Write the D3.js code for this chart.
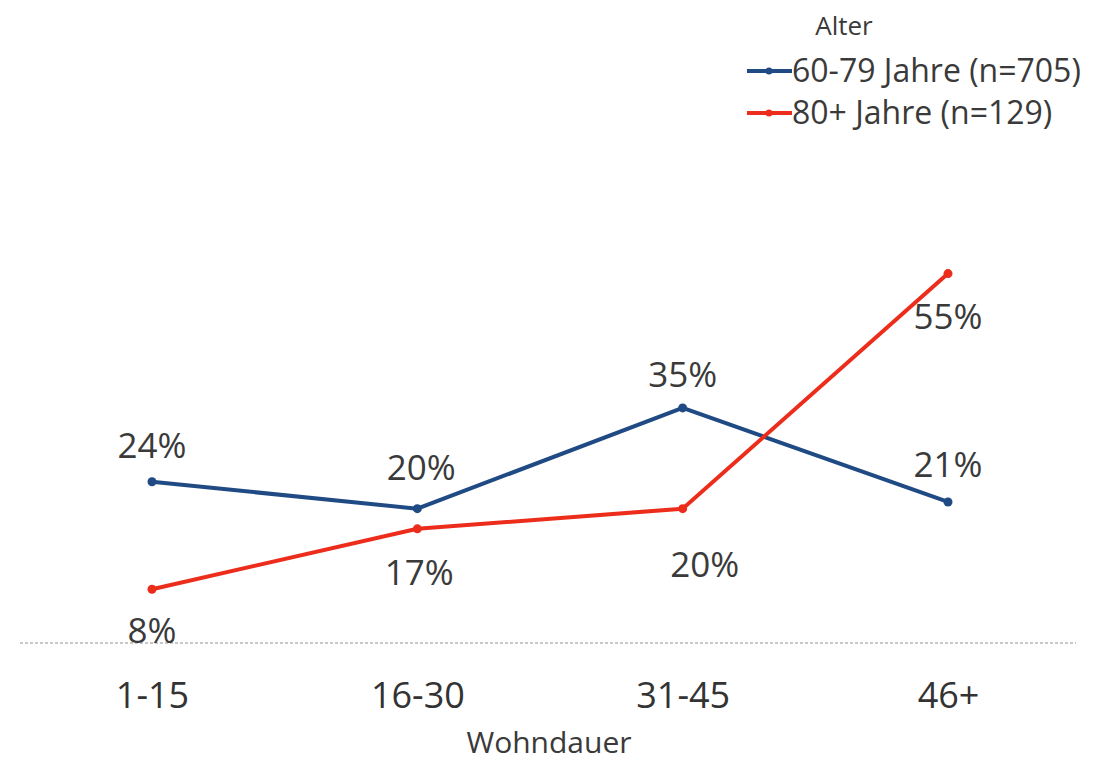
<!DOCTYPE html>
<html>
<head>
<meta charset="utf-8">
<script src="https://cdn.jsdelivr.net/npm/d3@7"></script>
<style>
  html, body { margin: 0; padding: 0; background: #fff; }
  svg { display: block; }
  text { font-family: "Open Sans", Lato, sans-serif; fill: #3a3a3a; }
</style>
</head>
<body>
<svg id="chart" width="1096" height="763"></svg>
<script>
// Wohndauer categories (years lived at the address)
const categories = ["1-15", "16-30", "31-45", "46+"];
// Share of respondents per age group, in percent
const young = [24, 20, 35, 21];   // 60-79 Jahre
const old   = [8, 17, 20, 55];    // 80+ Jahre
const seriesNames = ["60-79 Jahre (n=705)", "80+ Jahre (n=129)"];
const legendTitle = "Alter";
const axisTitle = "Wohndauer";

const series = [
  { name: seriesNames[0], values: young, color: "#1f4a84", labelPos: "above" },
  { name: seriesNames[1], values: old,   color: "#ec2d1c", labelPos: "below" }
];

// per-label fine nudges [dx, dy] so labels clear the lines
const nudges = [
  [[0, 1], [4, -4], [0, 4], [0, 0]],
  [[0, -2], [2, 1], [22, 13], [0, 0]]
];

const svg = d3.select("#chart");

const x = d3.scalePoint().domain(categories).range([152, 948]);
const y = d3.scaleLinear().domain([0, 60]).range([643, 240]);

// baseline (dotted, light gray)
svg.append("line")
  .attr("x1", 20).attr("x2", 1076)
  .attr("y1", y(0)).attr("y2", y(0))
  .attr("stroke", "#c8c8c8")
  .attr("stroke-width", 2)
  .attr("stroke-dasharray", "3,2");

// category axis labels, no ticks or domain line
const xAxis = d3.axisBottom(x).tickSize(0).tickPadding(0);
const gx = svg.append("g").attr("transform", `translate(0, ${y(0) + 52})`).call(xAxis);
gx.select(".domain").remove();
gx.selectAll("text")
  .attr("dy", "0.35em")
  .style("font-family", "\"Open Sans\", sans-serif")
  .style("font-size", "36px")
  .style("fill", "#333");

svg.append("text")
  .attr("x", 549).attr("y", 742)
  .attr("dy", "0.35em")
  .attr("text-anchor", "middle")
  .style("font-size", "30px")
  .text(axisTitle);

const line = d3.line()
  .x((d, i) => x(categories[i]))
  .y(d => y(d));

series.forEach((s, si) => {
  svg.append("path")
    .datum(s.values)
    .attr("fill", "none")
    .attr("stroke", s.color)
    .attr("stroke-width", 4)
    .attr("stroke-linejoin", "round")
    .attr("d", line);

  svg.append("g").selectAll("circle")
    .data(s.values)
    .join("circle")
    .attr("cx", (d, i) => x(categories[i]))
    .attr("cy", d => y(d))
    .attr("r", 4.5)
    .attr("fill", s.color);

  svg.append("g").selectAll("text")
    .data(s.values)
    .join("text")
    .attr("x", (d, i) => x(categories[i]) + nudges[si][i][0])
    .attr("y", (d, i) => y(d) + (s.labelPos === "above" ? -37 : 43) + nudges[si][i][1])
    .attr("dy", "0.35em")
    .attr("text-anchor", "middle")
    .style("font-size", "35px")
    .text(d => d + "%");
});

// legend
svg.append("text")
  .attr("x", 844).attr("y", 26)
  .attr("dy", "0.35em")
  .attr("text-anchor", "middle")
  .style("font-size", "26px")
  .text(legendTitle);

series.forEach((s, si) => {
  const ly = 71 + si * 42;
  const g = svg.append("g");
  g.append("line")
    .attr("x1", 747).attr("x2", 792)
    .attr("y1", ly).attr("y2", ly)
    .attr("stroke", s.color).attr("stroke-width", 4);
  g.append("circle")
    .attr("cx", 769).attr("cy", ly).attr("r", 3.5).attr("fill", s.color);
  g.append("text")
    .attr("x", 792).attr("y", ly)
    .attr("dy", "0.35em")
    .style("font-size", "32px")
    .text(s.name);
});
</script>
</body>
</html>
